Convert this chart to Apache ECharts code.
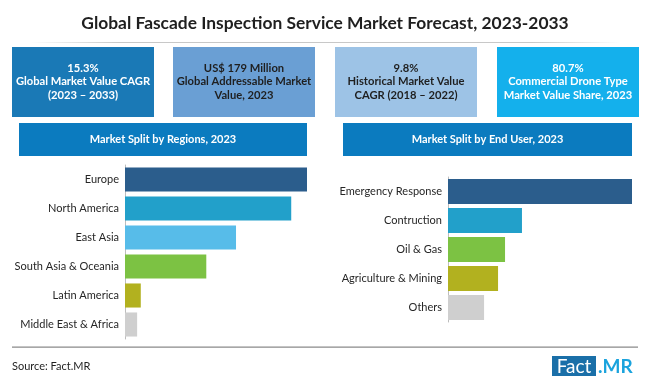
<!DOCTYPE html>
<html>
<head>
<meta charset="utf-8">
<script src="https://cdn.jsdelivr.net/npm/echarts@6/dist/echarts.min.js"></script>
<style>
html,body{margin:0;padding:0;background:#fff;}
#chart{width:650px;height:381px;}
</style>
</head>
<body>
<div id="chart"></div>
<script>
// ---- data ----
var chartTitle = 'Global Fascade Inspection Service Market Forecast, 2023-2033';
var statValues = ['15.3%', 'US$ 179 Million', '9.8%', '80.7%'];
var statLabels = [
  'Global Market Value CAGR\n(2023 \u2013 2033)',
  'Global Addressable Market\nValue, 2023',
  'Historical Market Value\nCAGR (2018 \u2013 2022)',
  'Commercial Drone Type\nMarket Value Share, 2023'
];
var regionTitle = 'Market Split by Regions, 2023';
var regionCategories = ['Europe', 'North America', 'East Asia', 'South Asia & Oceania', 'Latin America', 'Middle East & Africa'];
var regionValues = [30.0, 27.4, 18.3, 13.4, 2.6, 2.0];
var endUserTitle = 'Market Split by End User, 2023';
var endUserCategories = ['Emergency Response', 'Contruction', 'Oil & Gas', 'Agriculture & Mining', 'Others'];
var endUserValues = [50.0, 20.1, 15.5, 13.6, 9.8];
var sourceText = 'Source: Fact.MR';

// ---- styles ----
var FONT = 'Lato, "Open Sans", sans-serif';
var regionColors = ['#2b5d8c', '#22a0ca', '#57bce9', '#7cc243', '#b2b11f', '#cfcfcf'];
var endUserColors = ['#2b5d8c', '#22a0ca', '#7cc243', '#b2b11f', '#cfcfcf'];
var boxColors = ['#1a79b6', '#6a9fd4', '#9dc3e6', '#14b0ec'];
var boxTextColors = ['#ffffff', '#1f1f1f', '#1f1f1f', '#ffffff'];
var boxX = [12, 173, 335, 497];

var chart = echarts.init(document.getElementById('chart'), null, {renderer: 'canvas'});

var graphics = [];
graphics.push({type: 'text', x: 325, y: 23, style: {text: chartTitle, font: 'bold 17.4px ' + FONT, fill: '#1f1f1f', align: 'center', verticalAlign: 'middle'}});
graphics.push({type: 'rect', shape: {x: 30, y: 42, width: 590, height: 1},
  style: {fill: new echarts.graphic.LinearGradient(0, 0, 1, 0, [
    {offset: 0, color: 'rgba(200,200,200,0)'}, {offset: 0.15, color: '#c8c8c8'},
    {offset: 0.85, color: '#c8c8c8'}, {offset: 1, color: 'rgba(200,200,200,0)'}])}});
for (var i = 0; i < 4; i++) {
  graphics.push({type: 'rect', shape: {x: boxX[i], y: 47, width: 142, height: 70}, style: {fill: boxColors[i]}});
  graphics.push({type: 'text', x: boxX[i] + 71, y: 81.5,
    style: {text: statValues[i] + '\n' + statLabels[i], font: 'bold 11.2px ' + FONT, fill: boxTextColors[i],
      align: 'center', verticalAlign: 'middle', lineHeight: 13.5}});
}
// section headers
graphics.push({type: 'rect', shape: {x: 19, y: 123, width: 288, height: 33}, style: {fill: '#0b7bbf'}});
graphics.push({type: 'text', x: 163, y: 139.5, style: {text: regionTitle, font: 'bold 11px ' + FONT, fill: '#fff', align: 'center', verticalAlign: 'middle'}});
graphics.push({type: 'rect', shape: {x: 343, y: 123, width: 289, height: 33}, style: {fill: '#0b7bbf'}});
graphics.push({type: 'text', x: 487.5, y: 139.5, style: {text: endUserTitle, font: 'bold 11px ' + FONT, fill: '#fff', align: 'center', verticalAlign: 'middle'}});
// bottom rule
graphics.push({type: 'rect', shape: {x: 12, y: 346.5, width: 626, height: 1.2}, style: {fill: '#8a8a8a'}});
graphics.push({type: 'text', x: 12, y: 366, style: {text: sourceText, font: '11px ' + FONT, fill: '#1f1f1f', verticalAlign: 'middle'}});
// logo
graphics.push({type: 'rect', shape: {x: 552, y: 356, width: 44, height: 20}, style: {fill: '#1a6fa8'}});
graphics.push({type: 'text', x: 574, y: 366.5, style: {text: 'Fact', font: '19px ' + FONT, fill: '#fff', align: 'center', verticalAlign: 'middle'}});
graphics.push({type: 'text', x: 598, y: 366.5, style: {text: '.MR', font: 'bold 19px ' + FONT, fill: '#1aa3dd', verticalAlign: 'middle'}});

function catAxis(gi, cats) {
  return {type: 'category', gridIndex: gi, data: cats, inverse: true,
    axisLine: {show: true, lineStyle: {color: '#bdbdbd', width: 1}},
    axisTick: {show: false},
    axisLabel: {fontFamily: FONT, fontSize: 11, color: '#262626', margin: 6}};
}
function valAxis(gi, max) {
  return {type: 'value', gridIndex: gi, min: 0, max: max, show: false, splitLine: {show: false}};
}

var option = {
  backgroundColor: '#ffffff',
  animation: false,
  graphic: graphics,
  grid: [
    {left: 125, width: 182, top: 165, height: 174},
    {left: 448, width: 184, top: 177, height: 145}
  ],
  xAxis: [valAxis(0, regionValues[0]), valAxis(1, endUserValues[0])],
  yAxis: [catAxis(0, regionCategories), catAxis(1, endUserCategories)],
  series: [
    {type: 'bar', xAxisIndex: 0, yAxisIndex: 0, barCategoryGap: '17%',
      data: regionValues.map(function (v, i) { return {value: v, itemStyle: {color: regionColors[i]}}; })},
    {type: 'bar', xAxisIndex: 1, yAxisIndex: 1, barCategoryGap: '14%',
      data: endUserValues.map(function (v, i) { return {value: v, itemStyle: {color: endUserColors[i]}}; })}
  ]
};
chart.setOption(option);
</script>
</body>
</html>
